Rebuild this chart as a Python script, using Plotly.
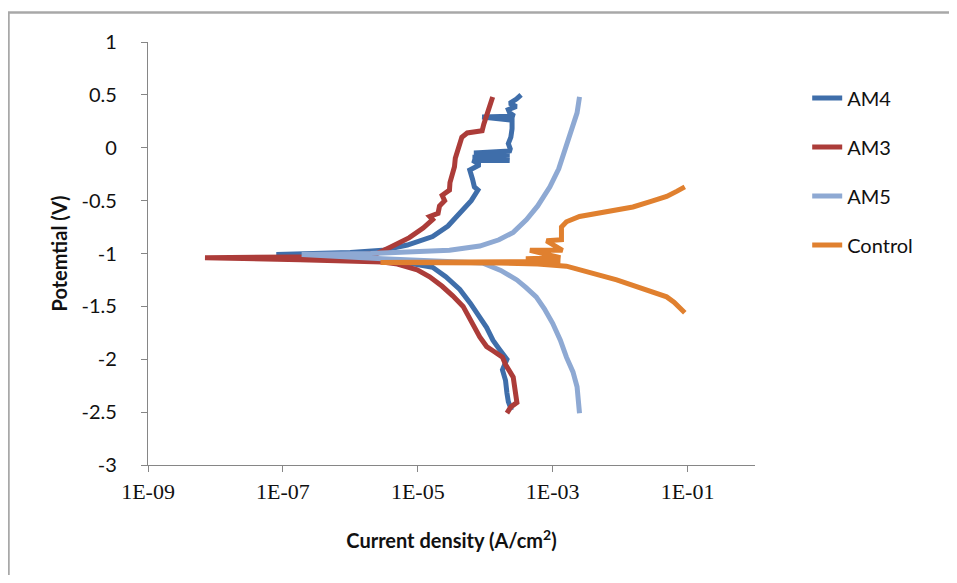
import plotly.graph_objects as go

# ---- data (potential in V, current density in A/cm^2) ----
am4_potential = [-2.48, -2.40, -2.32, -2.20, -2.10, -2.00, -1.90, -1.82, -1.70, -1.60, -1.47, -1.34, -1.22, -1.13,
                 -1.08, -1.06, -1.03, -1.01, -0.99, -0.97, -0.92, -0.84, -0.74, -0.62, -0.50, -0.40, -0.37, -0.30,
                 -0.21, -0.16, -0.12, -0.12, -0.09, -0.07, -0.05, -0.03, -0.01, 0.04, 0.10, 0.18, 0.26, 0.29, 0.30,
                 0.33, 0.36, 0.39, 0.42, 0.46, 0.50]
am4_current = [2.45e-4, 2.2e-4, 2.1e-4, 2.0e-4, 1.8e-4, 2.1e-4, 1.6e-4, 1.3e-4, 1.05e-4, 8.3e-5, 6.0e-5, 4.2e-5, 2.6e-5, 1.66e-5,
               6.0e-6, 3.0e-6, 5.0e-7, 8.0e-8, 1.0e-6, 3.0e-6, 7.0e-6, 1.66e-5, 2.8e-5, 4.2e-5, 6.2e-5, 7.8e-5, 6.9e-5, 6.5e-5,
               5.9e-5, 8.3e-5, 6.5e-5, 2.3e-4, 6.5e-5, 2.3e-4, 6.8e-5, 2.3e-4, 2.35e-4, 2.2e-4, 2.4e-4, 2.5e-4, 2.5e-4, 9.0e-5, 2.7e-4,
               2.3e-4, 2.2e-4, 2.9e-4, 2.3e-4, 2.9e-4, 3.4e-4]

am3_potential = [-2.51, -2.45, -2.41, -2.30, -2.17, -2.05, -1.98, -1.92, -1.88, -1.79, -1.65, -1.50, -1.40, -1.31, -1.22,
                 -1.155, -1.10, -1.08, -1.06, -1.04, -1.03, -1.00, -0.94, -0.85, -0.76, -0.68, -0.65, -0.62, -0.55, -0.50,
                 -0.45, -0.40, -0.33, -0.27, -0.18, -0.10, 0.00, 0.07, 0.10, 0.14, 0.16, 0.22, 0.30, 0.40, 0.48]
am3_current = [2.1e-4, 2.4e-4, 2.95e-4, 2.8e-4, 2.6e-4, 2.0e-4, 1.8e-4, 1.3e-4, 1.05e-4, 8.3e-5, 6.2e-5, 4.7e-5, 3.3e-5, 2.3e-5, 1.5e-5,
               9.8e-6, 5.0e-6, 3.0e-6, 1.8e-7, 7.0e-9, 5.0e-7, 2.5e-6, 3.9e-6, 7.5e-6, 1.2e-5, 1.66e-5, 1.5e-5, 2.0e-5, 2.1e-5, 2.5e-5,
               2.3e-5, 2.95e-5, 3.0e-5, 3.2e-5, 3.5e-5, 3.6e-5, 4.0e-5, 4.5e-5, 4.5e-5, 5.4e-5, 9.0e-5, 9.5e-5, 1.05e-4, 1.15e-4, 1.29e-4]

am5_potential = [-2.51, -2.40, -2.26, -2.12, -1.98, -1.82, -1.66, -1.52, -1.41, -1.32, -1.25, -1.16, -1.09, -1.05, -1.01,
                 -1.00, -0.97, -0.93, -0.87, -0.80, -0.68, -0.55, -0.37, -0.20, 0.01, 0.17, 0.33, 0.48]
am5_current = [2.5e-3, 2.45e-3, 2.3e-3, 2.0e-3, 1.6e-3, 1.3e-3, 1.0e-3, 7.5e-4, 5.7e-4, 4.0e-4, 2.95e-4, 1.7e-4, 9.1e-5, 3.0e-6, 1.9e-7,
               2.0e-6, 2.95e-5, 8.3e-5, 1.6e-4, 2.6e-4, 4.1e-4, 6.0e-4, 9.1e-4, 1.23e-3, 1.6e-3, 1.9e-3, 2.3e-3, 2.5e-3]

control_potential = [-1.56, -1.52, -1.46, -1.41, -1.33, -1.25, -1.18, -1.12, -1.10, -1.09, -1.085,
                     -1.08, -1.075, -1.05, -1.04, -0.97, -0.97, -0.88, -0.87, -0.75, -0.70, -0.65, -0.60,
                     -0.56, -0.51, -0.46, -0.41, -0.37]
control_current = [9.1e-2, 8.0e-2, 6.3e-2, 4.9e-2, 2.2e-2, 8.9e-3, 3.6e-3, 1.6e-3, 6.0e-4, 1.6e-4, 2.8e-6,
                   1.6e-4, 1.3e-3, 4.0e-4, 1.3e-3, 4.6e-4, 1.4e-3, 8.1e-4, 1.35e-3, 1.35e-3, 1.6e-3, 2.5e-3, 6.5e-3,
                   1.55e-2, 2.8e-2, 4.9e-2, 7.0e-2, 9.1e-2]

series_names = ["AM4", "AM3", "AM5", "Control"]
series_colors = ["#3F6EAA", "#AC3C39", "#8EA9D3", "#E0802F"]
x_tick_vals = [1e-9, 1e-7, 1e-5, 1e-3, 1e-1]
x_tick_text = ["1E-09", "1E-07", "1E-05", "1E-03", "1E-01"]
y_tick_vals = [1, 0.5, 0, -0.5, -1, -1.5, -2, -2.5, -3]
y_tick_text = ["1", "0.5", "0", "-0.5", "-1", "-1.5", "-2", "-2.5", "-3"]

series_x = [am4_current, am3_current, am5_current, control_current]
series_y = [am4_potential, am3_potential, am5_potential, control_potential]

fig = go.Figure()
for name, color, xs, ys in zip(series_names, series_colors, series_x, series_y):
    fig.add_trace(go.Scatter(x=xs, y=ys, mode="lines", name=name, legendgroup=name,
                             line=dict(color=color, width=5), showlegend=True))

# page body has an 8px default margin; plot area should land at x 148..755, y 42..465 on screen
FW, FH = 941, 567
PL, PT, PW, PH = 140, 34, 607, 423
axis_color = "#868686"
frame = dict(color="#A8A8A8", width=2.5)
fx = lambda px: (px - PL) / PW
fy = lambda py: (PT + PH - py) / PH
fig.update_layout(
    width=FW, height=FH,
    margin=dict(l=PL, r=FW - PL - PW, t=PT, b=FH - PT - PH),
    paper_bgcolor="white", plot_bgcolor="white",
    showlegend=True,
    legend=dict(x=1.086, y=0.914, xanchor="left", yanchor="top",
                font=dict(family="Lato", size=20, color="#111111"),
                tracegroupgap=20, bgcolor="rgba(0,0,0,0)", borderwidth=0),
    xaxis=dict(type="log", range=[-9, 0], tickvals=x_tick_vals, ticktext=x_tick_text,
               showgrid=False, zeroline=False, showline=True, linecolor=axis_color, linewidth=1.2,
               ticks="outside", ticklen=6, tickcolor=axis_color,
               tickfont=dict(family="Liberation Serif", size=22, color="#111111"),
               title=dict(text="<b>Current density (A/cm<sup>2</sup>)</b>",
                          font=dict(family="Lato", size=20, color="#111111"), standoff=31)),
    yaxis=dict(range=[-3, 1], tickvals=y_tick_vals, ticktext=y_tick_text,
               showgrid=False, zeroline=False, showline=True, linecolor=axis_color, linewidth=1.2,
               ticks="outside", ticklen=6, tickcolor=axis_color, ticklabelstandoff=20,
               tickfont=dict(family="Lato", size=20, color="#111111"),
               title=dict(text="<b>Potemtial (V)</b>", font=dict(family="Lato", size=20, color="#111111"),
                          standoff=8)),
    shapes=[
        dict(type="line", xref="paper", yref="paper", x0=fx(0.5), x1=fx(0.5), y0=fy(4.5), y1=fy(600), line=frame),
        dict(type="line", xref="paper", yref="paper", x0=fx(-0.5), x1=fx(960), y0=fy(4.5), y1=fy(4.5), line=frame),
    ],
)

fig.write_html("out.html")
